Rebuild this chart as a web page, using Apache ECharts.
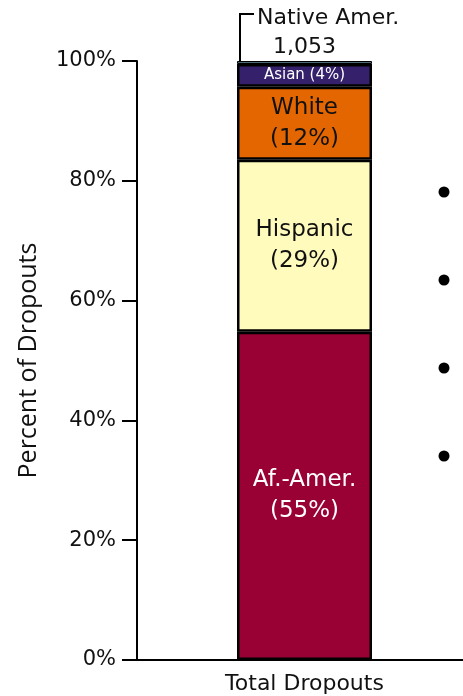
<!DOCTYPE html>
<html>
<head>
<meta charset="utf-8">
<script src="https://cdn.jsdelivr.net/npm/echarts@6/dist/echarts.min.js"></script>
<style>html,body{margin:0;padding:0;background:#fff;}#c{width:463px;height:696px;}</style>
</head>
<body>
<div id="c"></div>
<script>
const categories = ['Total Dropouts'];
const groupNames = ['Af.-Amer.', 'Hispanic', 'White', 'Asian', 'Native Amer.'];
const groupValues = [54.8, 28.7, 12.2, 3.8, 0.5];
const groupPctLabels = ['55%', '29%', '12%', '4%', ''];
const totalLabel = '1,053';
const yTicks = [0, 20, 40, 60, 80, 100];

const colors = ['#990033', '#FFFBBD', '#E46600', '#34206B', '#4D6E78'];
const textColors = ['#ffffff', '#111111', '#111111', '#ffffff', '#111111'];
const FONT = '"DejaVu Sans", Verdana, sans-serif';

const chart = echarts.init(document.getElementById('c'), null, {renderer: 'canvas'});

const series = groupNames.map((name, i) => {
  let label;
  if (i === 3) {
    label = {show: true, position: 'inside', formatter: name + ' (' + groupPctLabels[i] + ')',
      color: textColors[i], fontFamily: FONT, fontSize: 15};
  } else if (i === 4) {
    label = {show: true, position: 'top', distance: 3, formatter: totalLabel,
      color: '#111', fontFamily: FONT, fontSize: 22};
  } else {
    label = {show: true, position: 'inside', formatter: name + '\n(' + groupPctLabels[i] + ')',
      color: textColors[i], fontFamily: FONT, fontSize: 23, lineHeight: 31};
  }
  return {
    name: name,
    type: 'bar',
    stack: 'total',
    barWidth: 135,
    data: [groupValues[i]],
    itemStyle: {color: colors[i], borderColor: '#000', borderWidth: i === 4 ? 1 : 2.5},
    label: label,
    emphasis: {disabled: true},
    silent: true
  };
});

chart.setOption({
  animation: false,
  grid: {left: 137, top: 61, bottom: 36, width: 335, containLabel: false, outerBoundsMode: 'none'},
  xAxis: {
    type: 'category',
    data: categories,
    axisLine: {show: true, lineStyle: {color: '#000', width: 2}},
    axisTick: {show: false},
    axisLabel: {color: '#111', fontFamily: FONT, fontSize: 22, margin: 13}
  },
  yAxis: {
    type: 'value',
    min: yTicks[0],
    max: yTicks[yTicks.length - 1],
    interval: 20,
    name: 'Percent of Dropouts',
    nameLocation: 'middle',
    nameGap: 96,
    nameRotate: 90,
    nameTextStyle: {color: '#111', fontFamily: '"Open Sans", sans-serif', fontSize: 25},
    axisLine: {show: true, lineStyle: {color: '#000', width: 2}},
    axisTick: {show: true, inside: false, length: 15, lineStyle: {color: '#000', width: 2}},
    splitLine: {show: false},
    axisLabel: {formatter: '{value}%', color: '#111', fontFamily: FONT, fontSize: 21, margin: 21}
  },
  series: series
});

// leader line and label for the tiny Native Amer. segment
const nativeBase = groupValues.slice(0, 4).reduce((a, b) => a + b, 0);
const topPx = chart.convertToPixel({gridIndex: 0}, [0, nativeBase + groupValues[4]]);
const barLeft = topPx[0] - 135 / 2 + 3;
const lineY = 14;
chart.setOption({
  graphic: [
    {type: 'polyline', shape: {points: [[barLeft, topPx[1]], [barLeft, lineY], [barLeft + 14, lineY]]},
      style: {stroke: '#000', lineWidth: 2, fill: null}},
    {type: 'text', x: barLeft + 17, y: 18,
      style: {text: groupNames[4], fill: '#111', font: '22px ' + FONT, verticalAlign: 'middle'}},
    {type: 'circle', shape: {cx: 444, cy: 192, r: 5.5}, style: {fill: '#000'}},
    {type: 'circle', shape: {cx: 444, cy: 280, r: 5.5}, style: {fill: '#000'}},
    {type: 'circle', shape: {cx: 444, cy: 368, r: 5.5}, style: {fill: '#000'}},
    {type: 'circle', shape: {cx: 444, cy: 456, r: 5.5}, style: {fill: '#000'}}
  ]
});
</script>
</body>
</html>
